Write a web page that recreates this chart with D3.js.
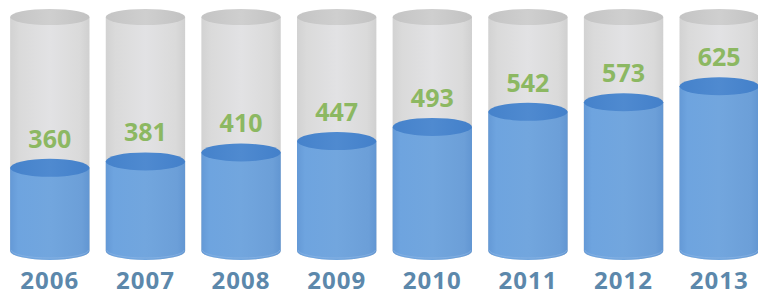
<!DOCTYPE html>
<html>
<head>
<meta charset="utf-8">
<script src="https://cdn.jsdelivr.net/npm/d3@7"></script>
<style>
  body { margin: 0; background: #fff; }
  text { font-family: "Open Sans", sans-serif; font-weight: 700; }
</style>
</head>
<body>
<script>
var width = 758,
    height = 297;

// data
var years = ["2006", "2007", "2008", "2009", "2010", "2011", "2012", "2013"];
var values = [360, 381, 410, 447, 493, 542, 573, 625];

// cylinder geometry
var ry = 9,
    topY = 17,
    baseY = 251;

var svg = d3.select("body")
    .append("svg")
    .attr("width", width)
    .attr("height", height);

var x = d3.scaleBand()
    .domain(years)
    .range([2, 767])
    .paddingInner(0.17)
    .paddingOuter(0.085);

var y = d3.scaleLinear()
    .domain([90, 850])
    .range([baseY, topY]);

var defs = svg.append("defs");

function hgrad(id, stops) {
  var g = defs.append("linearGradient").attr("id", id)
      .attr("x1", 0).attr("x2", 1).attr("y1", 0).attr("y2", 0);
  stops.forEach(function(s) {
    g.append("stop").attr("offset", s[0]).attr("stop-color", s[1]);
  });
}
hgrad("glass", [[0, "#d2d2d2"], [0.12, "#dadada"], [0.5, "#e2e2e4"], [0.88, "#dadada"], [1, "#d0d0d0"]]);
hgrad("glassTop", [[0, "#c4c4c4"], [0.5, "#cfcfcf"], [1, "#c2c2c2"]]);
hgrad("water", [[0, "#6499d6"], [0.1, "#6ea4df"], [0.5, "#72a6de"], [0.9, "#6c9fd8"], [1, "#6296d2"]]);
hgrad("waterTop", [[0, "#4582cb"], [0.5, "#4f8ad0"], [1, "#4380ca"]]);

var bw = x.bandwidth(),
    rx = bw / 2;

var g = svg.selectAll(".cyl")
    .data(years)
    .enter().append("g")
    .attr("class", "cyl")
    .attr("transform", function(d) { return "translate(" + x(d) + ",0)"; });

// glass body
g.append("path")
    .attr("d", "M0," + topY + "L0," + baseY +
      "A" + rx + "," + ry + " 0 0 0 " + bw + "," + baseY +
      "L" + bw + "," + topY + "Z")
    .style("fill", "url(#glass)");

g.append("ellipse")
    .attr("cx", rx)
    .attr("cy", topY)
    .attr("rx", rx)
    .attr("ry", ry - 1)
    .style("fill", "url(#glassTop)");

// water body
g.append("path")
    .attr("d", function(d, i) {
      var t = y(values[i]);
      return "M0," + t + "L0," + baseY +
        "A" + rx + "," + ry + " 0 0 0 " + bw + "," + baseY +
        "L" + bw + "," + t + "Z";
    })
    .style("fill", "url(#water)");

// faint rim at the bottom
g.append("path")
    .attr("d", "M1," + (baseY - 1) + "A" + (rx - 1) + "," + (ry - 1) + " 0 0 0 " + (bw - 1) + "," + (baseY - 1))
    .style("fill", "none")
    .style("stroke", "#8db6e4")
    .style("stroke-width", 1)
    .style("opacity", 0.6);

g.append("ellipse")
    .attr("cx", rx)
    .attr("cy", function(d, i) { return y(values[i]); })
    .attr("rx", rx)
    .attr("ry", ry)
    .style("fill", "url(#waterTop)");

// value labels
g.append("text")
    .attr("x", rx)
    .attr("y", function(d, i) { return y(values[i]) - ry - 11; })
    .attr("text-anchor", "middle")
    .style("font-size", "25px")
    .style("fill", "#8cb862")
    .text(function(d, i) { return values[i]; });

// year labels
g.append("text")
    .attr("x", rx)
    .attr("y", 289)
    .attr("text-anchor", "middle")
    .style("font-size", "24px")
    .style("letter-spacing", "1px")
    .style("fill", "#5c88ab")
    .text(function(d) { return d; });
</script>
</body>
</html>
